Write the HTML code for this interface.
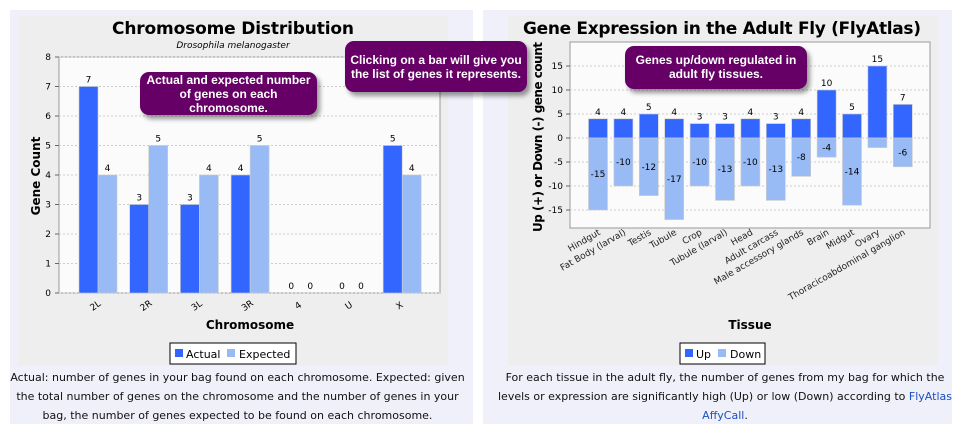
<!DOCTYPE html>
<html><head><meta charset="utf-8">
<style>
body{margin:0;width:962px;height:434px;background:#fff;font-family:"DejaVu Sans","Liberation Sans",sans-serif;position:relative;overflow:hidden}
.panel{position:absolute;background:#f0f0fa}
.cap{position:absolute;font-size:11px;line-height:19px;text-align:center;color:#111}
.tip{position:absolute;background:#660066;color:#fff;font-weight:bold;font-family:"Liberation Sans",sans-serif;font-size:12px;line-height:14px;text-align:center;border-radius:9px;box-shadow:3px 4px 5px rgba(0,0,0,.4);padding-top:1px;white-space:nowrap}
a{color:#1a4fc0;text-decoration:none}
</style></head><body>
<div class="panel" style="left:10px;top:10px;width:463px;height:414px"></div>
<div class="panel" style="left:483px;top:10px;width:469px;height:414px"></div>
<svg id="s" width="962" height="434" style="position:absolute;left:0;top:0" font-family="DejaVu Sans, Liberation Sans, sans-serif">
<rect x="18" y="16" width="430" height="350" fill="#eeeeee"/>
<rect x="508" y="16" width="430" height="350" fill="#eeeeee"/>
<text x="233" y="34" font-size="17" font-weight="bold" text-anchor="middle" textLength="242">Chromosome Distribution</text>
<text x="233" y="48" font-size="9" font-style="italic" text-anchor="middle">Drosophila melanogaster</text>
<text x="722" y="34" font-size="17" font-weight="bold" text-anchor="middle" textLength="398">Gene Expression in the Adult Fly (FlyAtlas)</text>
<g id="c1"></g><g id="c2"></g>
<text x="250" y="329" font-size="12" font-weight="bold" text-anchor="middle">Chromosome</text>
<text transform="translate(40,176) rotate(-90)" font-size="12" font-weight="bold" text-anchor="middle">Gene Count</text>
<text x="750" y="329" font-size="12" font-weight="bold" text-anchor="middle">Tissue</text>
<text transform="translate(542,137) rotate(-90)" font-size="12" font-weight="bold" text-anchor="middle" textLength="190">Up (+) or Down (-) gene count</text>
<g>
<rect x="170" y="343" width="126" height="21" fill="#fff" stroke="#000"/>
<rect x="175" y="349" width="8" height="8" fill="#3366ff"/><text x="186" y="358" font-size="11">Actual</text>
<rect x="227" y="349" width="8" height="8" fill="#99bbf5"/><text x="239" y="358" font-size="11">Expected</text></g>
<g>
<rect x="680" y="343" width="85" height="21" fill="#fff" stroke="#000"/>
<rect x="685" y="349" width="8" height="8" fill="#3366ff"/><text x="696" y="358" font-size="11">Up</text>
<rect x="718" y="349" width="8" height="8" fill="#99bbf5"/><text x="730" y="358" font-size="11">Down</text></g>
</svg>
<div class="tip" style="left:140px;top:72px;width:177px;height:42px">Actual and expected number<br>of genes on each<br>chromosome.</div>
<div class="tip" style="left:345px;top:41px;width:182px;height:51px;padding-top:12px;box-sizing:border-box">Clicking on a bar will give you<br>the list of genes it represents.</div>
<div class="tip" style="left:625px;top:46px;width:182px;height:43px;padding-top:7px;box-sizing:border-box">Genes up/down regulated in<br>adult fly tissues.</div>
<div class="cap" style="left:10px;top:368px;width:455px">Actual: number of genes in your bag found on each chromosome. Expected: given the total number of genes on the chromosome and the number of genes in your bag, the number of genes expected to be found on each chromosome.</div>
<div class="cap" style="left:490px;top:368px;width:470px">For each tissue in the adult fly, the number of genes from my bag for which the levels or expression are significantly high (Up) or low (Down) according to <a href="#">FlyAtlas AffyCall</a>.</div>
<script>
const chromosomes=["2L","2R","3L","3R","4","U","X"];
const actualCounts=[7,3,3,4,0,0,5];
const expectedCounts=[4,5,4,5,0,0,4];
const yTicks1=[0,1,2,3,4,5,6,7,8];
const tissues=["Hindgut","Fat Body (larval)","Testis","Tubule","Crop","Tubule (larval)","Head","Adult carcass","Male accessory glands","Brain","Midgut","Ovary","Thoracicoabdominal ganglion"];
const upCounts=[4,4,5,4,3,3,4,3,4,10,5,15,7];
const downCounts=[-15,-10,-12,-17,-10,-13,-10,-13,-8,-4,-14,-2,-6];
const downLabels=["-15","-10","-12","-17","-10","-13","-10","-13","-8","-4","-14","","-6"];
const yTicks2=[-15,-10,-5,0,5,10,15];
const NS="http://www.w3.org/2000/svg";
function mk(p,t,a,txt){const e=document.createElementNS(NS,t);for(const k in a)e.setAttribute(k,a[k]);if(txt!==undefined)e.textContent=txt;p.appendChild(e);return e;}
// chart 1
const g1=document.getElementById('c1');
const L1=59,R1=440,T1=57,B1=293;
const y1=v=>B1-(v/8)*(B1-T1);
const x1=i=>98+i*50.7;
const plot1=mk(g1,'rect',{x:L1,y:T1,width:R1-L1,height:B1-T1,fill:'#fbfbfb',stroke:'#999'});


yTicks1.forEach(v=>{mk(g1,'line',{x1:L1,x2:R1,y1:y1(v),y2:y1(v),stroke:'#ccc','stroke-dasharray':'2,2'});
mk(g1,'line',{x1:L1-4,x2:L1,y1:y1(v),y2:y1(v),stroke:'#666'});
const t=mk(g1,'text',{x:L1-8,y:y1(v)+3,'font-size':9,'text-anchor':'end'},v);

});
const bw=19;
chromosomes.forEach((c,i)=>{const cx=x1(i);
const a=mk(g1,'rect',{x:cx-bw,y:y1(actualCounts[i]),width:bw,height:B1-y1(actualCounts[i]),fill:'#3366ff',stroke:'#ccc','stroke-width':0.6});


const e=mk(g1,'rect',{x:cx,y:y1(expectedCounts[i]),width:bw,height:B1-y1(expectedCounts[i]),fill:'#99bbf5',stroke:'#ccc','stroke-width':0.6});


mk(g1,'text',{x:cx-bw/2,y:y1(actualCounts[i])-4,'font-size':9,'text-anchor':'middle'},actualCounts[i]);
mk(g1,'text',{x:cx+bw/2,y:y1(expectedCounts[i])-4,'font-size':9,'text-anchor':'middle'},expectedCounts[i]);
const xl=mk(g1,'text',{transform:`translate(${cx-1},${B1+15}) rotate(-35)`,'font-size':9,'text-anchor':'middle'},c);

});
// chart 2
const g2=document.getElementById('c2');
const L2=570,R2=930,T2=42,B2=228,ymax=20,ymin=-18.75;
const y2=v=>T2+(ymax-v)/(ymax-ymin)*(B2-T2);
const step2=25.4;
const x2=i=>598+i*step2;
const plot2=mk(g2,'rect',{x:L2,y:T2,width:R2-L2,height:B2-T2,fill:'#fbfbfb',stroke:'#999'});


yTicks2.forEach(v=>{mk(g2,'line',{x1:L2,x2:R2,y1:y2(v),y2:y2(v),stroke:'#ccc','stroke-dasharray':'2,2'});
mk(g2,'line',{x1:L2-4,x2:L2,y1:y2(v),y2:y2(v),stroke:'#666'});
const t=mk(g2,'text',{x:L2-7,y:y2(v)+3,'font-size':9,'text-anchor':'end'},v);

});
const bw2=19;
tissues.forEach((c,i)=>{const cx=x2(i);
const u=mk(g2,'rect',{x:cx-bw2/2,y:y2(upCounts[i]),width:bw2,height:y2(0)-y2(upCounts[i]),fill:'#3366ff',stroke:'#ccc','stroke-width':0.6});


const d=mk(g2,'rect',{x:cx-bw2/2,y:y2(0),width:bw2,height:y2(downCounts[i])-y2(0),fill:'#99bbf5',stroke:'#ccc','stroke-width':0.6});


mk(g2,'text',{x:cx,y:y2(upCounts[i])-4,'font-size':9,'text-anchor':'middle'},upCounts[i]);
if(downLabels[i])mk(g2,'text',{x:cx,y:(y2(0)+y2(downCounts[i]))/2+3,'font-size':9,'text-anchor':'middle'},downLabels[i]);
const xl=mk(g2,'text',{transform:`translate(${cx+3},${B2+6}) rotate(-30)`,'font-size':9,'text-anchor':'end','fill':'#222'},c);

});
</script>
</body></html>
